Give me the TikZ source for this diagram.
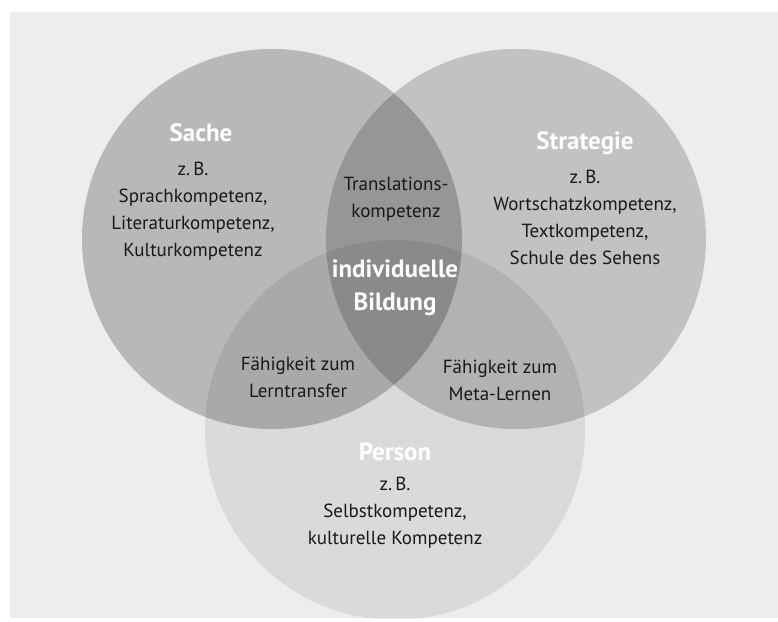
\documentclass[tikz,border=0pt]{standalone}
\usepackage{fontspec}
\setmainfont{PT Sans}
\begin{document}
\begin{tikzpicture}[
    x=1pt, y=-1pt,
    every node/.style={inner sep=1pt, align=center},
    kreis/.style={circle, minimum size=380pt, fill=black},
    titel/.style={font=\fontsize{25}{33}\selectfont\bfseries, text=white},
    eintrag/.style={font=\fontsize{19}{27}\selectfont, text=black!90}
]
\useasboundingbox (0,0) rectangle (778,621);
% Hintergrund
\fill[black!7] (10,12) rectangle (778,618);

% Kreise
\begin{scope}
\clip (10,12) rectangle (778,618);
\node[kreis, fill opacity=0.22] (sache) at (272,239) {};
\node[kreis, fill opacity=0.18] (strategie) at (516,239) {};
\node[kreis, fill opacity=0.08] (person) at (395,430) {};
\end{scope}

% Sache
\node[titel] (sachetitel) at (201,133) {Sache};
\node[eintrag] (sachetext) at (193,211) {z.\,B.\\Sprachkompetenz,\\Literaturkompetenz,\\Kulturkompetenz};

% Strategie
\node[titel] (strategietitel) at (585,143) {Strategie};
\node[eintrag] (strategietext) at (585,217) {z.\,B.\\Wortschatzkompetenz,\\Textkompetenz,\\Schule des Sehens};

% Person
\node[titel] (persontitel) at (395,452) {Person};
\node[eintrag] (persontext) at (395,513) {z.\,B.\\Selbstkompetenz,\\kulturelle Kompetenz};

% Schnittmengen
\node[eintrag] (translation) at (396,199) {Translations-\\kompetenz};
\node[titel] (bildung) at (395,288) {individuelle\\Bildung};
\node[eintrag] (lerntransfer) at (298,377) {Fähigkeit zum\\Lerntransfer};
\node[eintrag] (metalernen) at (500,380) {Fähigkeit zum\\Meta-Lernen};
\end{tikzpicture}
\end{document}
